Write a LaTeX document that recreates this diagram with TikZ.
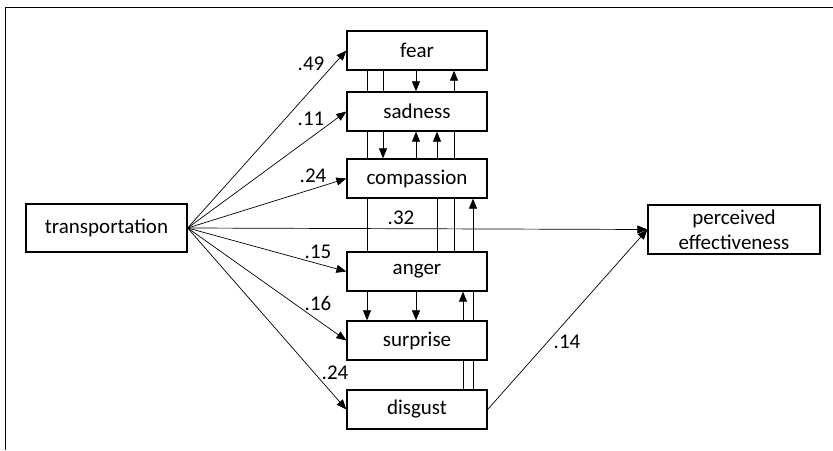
\documentclass[tikz,border=0pt]{standalone}
\usepackage{fontspec}
\setmainfont{Carlito}
\usetikzlibrary{arrows.meta, backgrounds}

\begin{document}
\begin{tikzpicture}
                        [x=1pt, y=-1pt,
                         box/.style={draw, line width=1.3pt, fill=white, inner sep=0pt,
                                     minimum width=140pt, minimum height=39pt,
                                     font=\fontsize{21}{25}\selectfont},
                         coef/.style={inner sep=1pt, font=\fontsize{21}{24}\selectfont},
                         effect/.style={draw, line width=0.7pt, -{Triangle[length=10pt, width=8pt]}},
                         link/.style={draw, line width=0.7pt}]

                        \useasboundingbox (0,0) rectangle (833,450);
                        \draw[line width=1pt] (5,450) -- (5,7) -- (833,7);

                        % Emotion column
                        \node[box] (fear)       at (417,50.5)  {fear};
                        \node[box] (sadness)    at (417,111.5) {sadness};
                        \node[box] (compassion) at (417,178.5) {compassion};
                        \node[box] (anger)      at (417,271.5) {anger};
                        \node[box] (surprise)   at (417,340.5) {surprise};
                        \node[box] (disgust)    at (417,409.5) {disgust};

                        \node[box, minimum width=161pt, minimum height=48pt] (trans) at (106.5,228) {transportation};
                        \node[box, minimum width=172pt, minimum height=49pt, align=center] (perc) at (734,229.5)
                            {perceived\\effectiveness};

                        % Paths between emotions
                        \coordinate (c1) at (367,0);
                        \coordinate (c2) at (383,0);
                        \coordinate (c3) at (416,0);
                        \coordinate (c4) at (437,0);
                        \coordinate (c5) at (454,0);
                        \coordinate (c6) at (463,0);
                        \coordinate (c7) at (473,0);

                        \begin{scope}[on background layer]
                            \draw[effect] (fear.south -| c1) -- (surprise.north -| c1);
                            \draw[effect] (fear.south -| c2) -- (compassion.north -| c2);
                            \draw[effect] (fear.south -| c3) -- (sadness.north -| c3);
                            \draw[effect] (compassion.north -| c3) -- (sadness.south -| c3);
                            \draw[effect] (anger.north -| c4) -- (sadness.south -| c4);
                            \draw[effect] (anger.north -| c5) -- (fear.south -| c5);
                            \draw[effect] (anger.south -| c3) -- (surprise.north -| c3);
                            \draw[effect] (disgust.north -| c6) -- (anger.south -| c6);
                            \draw[effect] (disgust.north -| c7) -- (compassion.south -| c7);
                        \end{scope}

                        % Paths from transportation
                        \draw[effect] (trans.east) -- (fear.west);
                        \draw[effect] (trans.east) -- (sadness.west);
                        \draw[effect] (trans.east) -- (compassion.west);
                        \draw[effect] (trans.east) -- (anger.west);
                        \draw[effect] (trans.east) -- (surprise.west);
                        \draw[effect] (trans.east) -- (disgust.west);
                        \draw[effect] (trans.east) -- (perc.west);
                        \draw[effect] (disgust.east) -- (perc.west);

                        % Coefficients
                        \node[coef] (k1) at (311,64)  {.49};
                        \node[coef] (k2) at (311,119) {.11};
                        \node[coef] (k3) at (313,176) {.24};
                        \node[coef] (k4) at (401,218) {.32};
                        \node[coef] (k5) at (318,252) {.15};
                        \node[coef] (k6) at (318,303) {.16};
                        \node[coef] (k7) at (335,373) {.24};
                        \node[coef] (k8) at (567,342) {.14};
                    \end{tikzpicture}
\end{document}
